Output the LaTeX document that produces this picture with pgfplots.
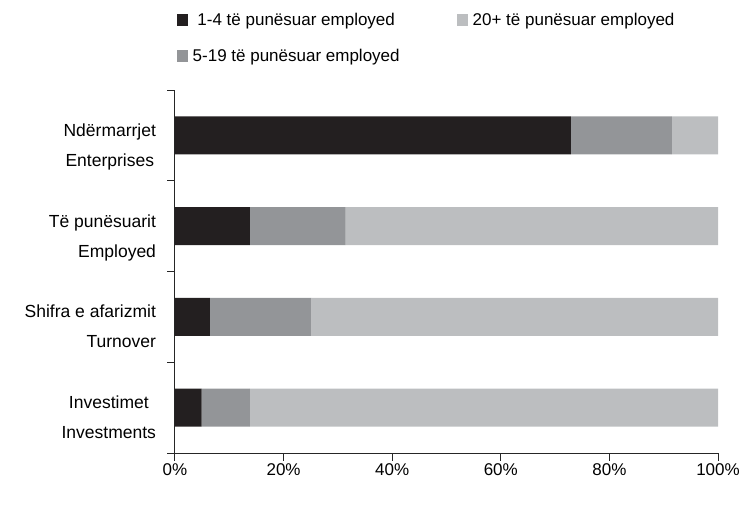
\documentclass[border=0pt]{standalone}
\usepackage{fontspec}
\setmainfont{Liberation Sans}
\usepackage{pgfplots}
\pgfplotsset{compat=1.18}
\definecolor{cA}{HTML}{231F20}
\definecolor{cB}{HTML}{939598}
\definecolor{cC}{HTML}{BCBEC0}
\begin{document}
\begin{tikzpicture}
\begin{axis}[
 at={(0,0)}, anchor=south west, name=ax,
 width=543bp, height=363bp, scale only axis,
 xbar stacked, bar width=38bp,
 xmin=0, xmax=100, ymin=-0.5, ymax=3.5,
 axis x line*=bottom, axis y line*=left,
 axis line style={line width=1bp, black!85},
 tick align=outside, major tick length=7.5bp,
 tick style={line width=1bp, black!85},
 xtick={0,20,40,60,80,100},
 xticklabels={0\%,20\%,40\%,60\%,80\%,100\%},
 ytick={-0.5,0.5,1.5,2.5,3.5},
 yticklabels={,,,,},
 extra y ticks={0,1,2,3},
 extra y tick labels={
   {\begin{tabular}{@{}c@{}}Investimet\\Investments\end{tabular}},
   {\begin{tabular}{@{}r@{}}Shifra e afarizmit\\Turnover\end{tabular}},
   {\begin{tabular}{@{}r@{}}Të punësuarit\\Employed\end{tabular}},
   {\begin{tabular}{@{}c@{}}Ndërmarrjet\\Enterprises\end{tabular}}},
 extra y tick style={tick style={draw=none},
   yticklabel style={yshift=-10bp, xshift=-8bp, font=\fontsize{17.5bp}{30bp}\selectfont}},
 ticklabel style={font=\fontsize{17bp}{20bp}\selectfont},
 /pgf/number format/assume math mode=true,
 legend columns=2,
 legend image code/.code={\path[#1] (0bp,-6bp) rectangle (11bp,6bp);},
 legend style={at={(0,1)}, anchor=north west, xshift=2bp, yshift=82bp,
   draw=none, fill=none, inner sep=0pt,
   font=\fontsize{17bp}{20bp}\selectfont,
   row sep=14bp,
   nodes={inner sep=4.5bp},
   /tikz/every even column/.append style={column sep=53bp}},
]
\addplot[fill=cA, draw=none, forget plot] coordinates {(72.9,3) (13.8,2) (6.4,1) (4.9,0)};
\addplot[fill=cB, draw=none, forget plot] coordinates {(18.6,3) (17.6,2) (18.7,1) (8.9,0)};
\addplot[fill=cC, draw=none, forget plot] coordinates {(8.5,3) (68.6,2) (74.9,1) (86.2,0)};
\addlegendimage{fill=cA, draw=none}
\addlegendentry{1-4 të punësuar employed}
\addlegendimage{fill=cC, draw=none}
\addlegendentry{20+ të punësuar employed}
\addlegendimage{fill=cB, draw=none}
\addlegendentry{5-19 të punësuar employed}
\end{axis}
\pgfresetboundingbox
\path (-175bp,-55bp) rectangle (564bp,453bp);
\end{tikzpicture}
\end{document}
